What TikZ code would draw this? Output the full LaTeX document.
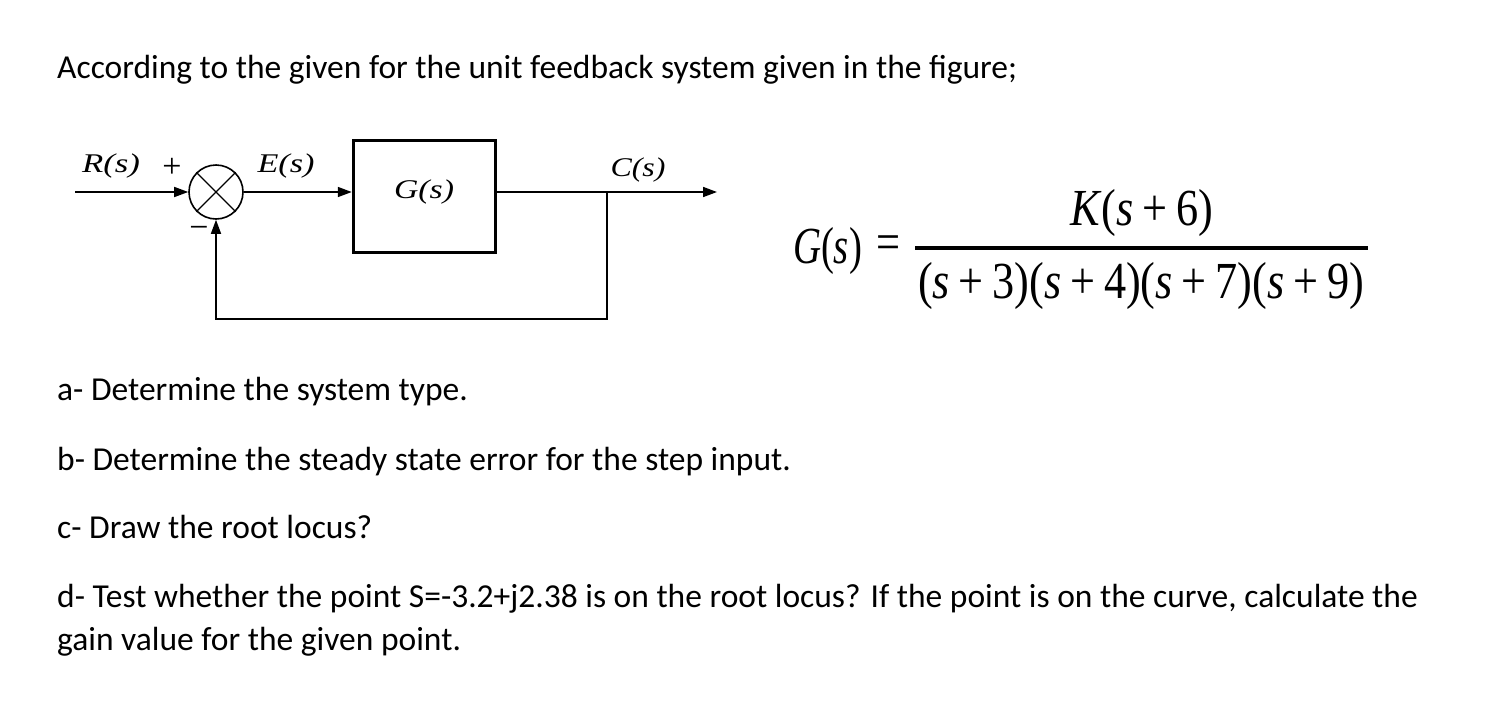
\documentclass[tikz,border=0pt]{standalone}
\usepackage{fontspec}
\usepackage{graphicx}
\setmainfont{Carlito}
\newfontfamily\tms{Liberation Serif}
\usetikzlibrary{arrows.meta}
\tikzset{
  body/.style={anchor=base west, inner sep=0pt, font=\fontsize{33.5}{40}\selectfont},
  sig/.style={line width=1.6pt, -{Triangle[length=14pt,width=10pt]}},
  wire/.style={line width=1.6pt},
  lbl/.style={inner sep=0pt, font=\tms\fontsize{27}{32}\selectfont\itshape},
  eq/.style={inner sep=0pt, font=\tms\fontsize{52}{60}\selectfont},
  pm/.style={inner sep=0pt, font=\tms\fontsize{34}{38}\selectfont}
}
\begin{document}
\begin{tikzpicture}[x=1pt,y=-1pt]
\useasboundingbox[fill=white] (0,0) rectangle (1498,715);
% texts
\node[body] (t1) at (57,78) {According to the given for the unit feedback system given in the figure;};
\node[body] (ta) at (57,400) {a- Determine the system type.};
\node[body] (tb) at (57,470) {b- Determine the steady state error for the step input.};
\node[body] (tc) at (57,538) {c- Draw the root locus?};
\node[body] (td) at (57,607) {d- Test whether the point S=-3.2+j2.38 is on the root locus? If the point is on the curve, calculate the};
\node[body] (te) at (57,650) {gain value for the given point.};
% block diagram
\coordinate (in) at (75,192);
\node[circle, draw, line width=1.6pt, minimum size=54pt, inner sep=0pt] (sum) at (216,192) {};
\draw[line width=1.3pt] (sum.45) -- (sum.225) (sum.135) -- (sum.-45);
\node[draw, line width=3.5pt, minimum width=142pt, minimum height=112pt, inner sep=0pt] (G) at (424.5,196.5) {};
\node[lbl] (Gl) at (424,192) {\resizebox{60pt}{\height}{G(s)}};
\coordinate (br) at (607,192);
\coordinate (out) at (717,192);
\coordinate (fb) at (607,319);
\draw[sig] (in) -- (sum.west);
\draw[sig] (sum.east) -- (G.west |- sum.east);
\draw[wire] (G.east |- sum.east) -- (br);
\draw[sig] (br) -- (out);
\draw[sig] (br) -- (fb) -| (sum.south);
\node[lbl] (R) at (111,166) {\resizebox{58pt}{\height}{R(s)}};
\node[lbl] (E) at (286,166) {\resizebox{57pt}{\height}{E(s)}};
\node[lbl] (C) at (638,170) {\resizebox{55pt}{\height}{C(s)}};
\node[pm] (plus) at (172,168) {+};
\node[pm] (minus) at (199,232) {−};
% formula
\node[eq] (Gs) at (827.5,251) {\resizebox{69pt}{\height}{\textit{G}(\textit{s})}};
\node[eq] (eqs) at (888,248) {\resizebox{24pt}{\height}{=}};
\draw[line width=4.5pt] (915,248) coordinate (b1) -- (1368,248) coordinate (b2);
\node[eq] (num) at (1141.5,213) {\resizebox{143pt}{\height}{\textit{K}(\textit{s}\hspace{0.2em}+\hspace{0.2em}6)}};
\node[eq] (den) at (1141,286) {\resizebox{446pt}{\height}{(\textit{s}\hspace{0.2em}+\hspace{0.2em}3)(\textit{s}\hspace{0.2em}+\hspace{0.2em}4)(\textit{s}\hspace{0.2em}+\hspace{0.2em}7)(\textit{s}\hspace{0.2em}+\hspace{0.2em}9)}};
\end{tikzpicture}
\end{document}
